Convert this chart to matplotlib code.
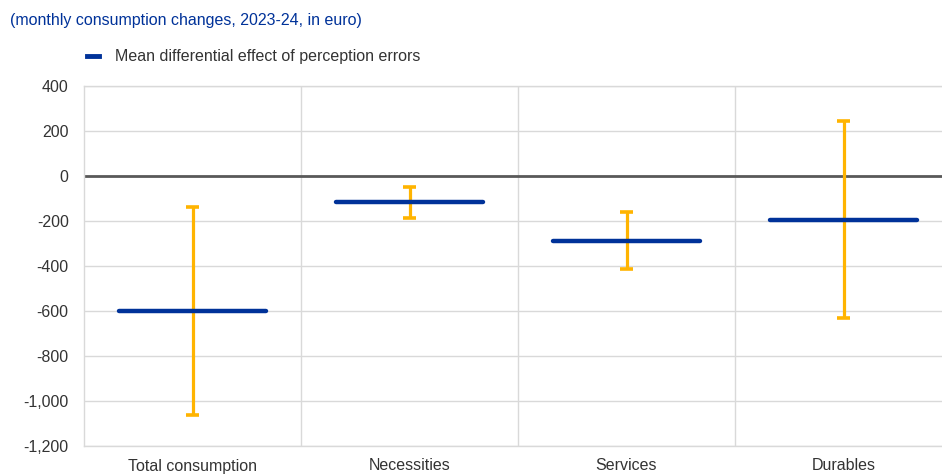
import matplotlib
matplotlib.use("Agg")
import matplotlib.pyplot as plt
from matplotlib.ticker import FuncFormatter
from matplotlib.lines import Line2D

plt.rcParams['font.family'] = ['Liberation Sans', 'DejaVu Sans']

categories = ["Total consumption", "Necessities", "Services", "Durables"]
mean_effect = [-600, -117, -287, -197]
ci_low = [-1062, -188, -415, -633]
ci_high = [-136, -50, -160, 244]

blue = "#003299"
yellow = "#FFB400"
text_color = "#333333"

fig = plt.figure(figsize=(9.42, 4.74), dpi=100)
W, H = 942, 474
left, right, top, bottom = 84, 952, 86, 446
ax = fig.add_axes([left / W, 1 - bottom / H, (right - left) / W, (bottom - top) / H])

x = list(range(len(categories)))
half = 0.34
for xi, m, lo, hi in zip(x, mean_effect, ci_low, ci_high):
    ax.plot([xi, xi], [lo, hi], color=yellow, lw=2.3, zorder=3, solid_capstyle='butt')
    for yv in (lo, hi):
        ax.plot([xi - 0.03, xi + 0.03], [yv, yv], color=yellow, lw=2.6, zorder=3,
                solid_capstyle='butt')
    ax.plot([xi - half, xi + half], [m, m], color=blue, lw=3.2, zorder=4,
            solid_capstyle='round')

ax.set_xlim(-0.5, 3.5)
ax.set_ylim(-1200, 400)
ax.set_yticks(range(-1200, 401, 200))
ax.yaxis.set_major_formatter(FuncFormatter(lambda v, p: f"{int(v):,}"))
ax.set_xticks(x)
ax.set_xticklabels(categories)
ax.set_xticks([0.5, 1.5, 2.5], minor=True)

ax.grid(axis='y', color='#d9d9d9', lw=1)
ax.grid(axis='x', which='minor', color='#d9d9d9', lw=1)
ax.set_axisbelow(True)
ax.axhline(0, color='#595959', lw=2, zorder=2)

for s in ax.spines.values():
    s.set_color('#d9d9d9')
    s.set_linewidth(1)
ax.tick_params(axis='both', which='both', length=0, labelsize=11.5, colors=text_color)
ax.tick_params(axis='y', pad=11)
ax.tick_params(axis='x', pad=9)

fig.text(10 / W, 1 - 20 / H, "(monthly consumption changes, 2023-24, in euro)",
         color=blue, fontsize=11.5, va='center', ha='left')

handle = Line2D([], [], color=blue, lw=3.5)
leg = fig.legend([handle], ["Mean differential effect of perception errors"],
                 loc='center left', bbox_to_anchor=(73 / W, 1 - 57 / H), frameon=False,
                 fontsize=11.5, handlelength=0.75, handletextpad=0.95)
for t in leg.get_texts():
    t.set_color(text_color)

fig.savefig("out.png", dpi=100)
